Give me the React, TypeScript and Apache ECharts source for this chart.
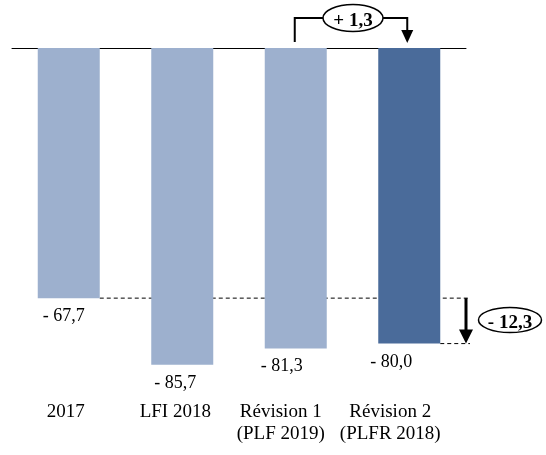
import React, { useEffect, useRef } from "react";
import * as echarts from "echarts";

const categories = ["2017", "LFI 2018", "Révision 1\n(PLF 2019)", "Révision 2\n(PLFR 2018)"];
const values = [-67.7, -85.7, -81.3, -80.0];
const valueLabels = ["- 67,7", "- 85,7", "- 81,3", "- 80,0"];
const deltaTopLabel = "+ 1,3";
const deltaRightLabel = "- 12,3";

const FONT = "'Book Antiqua', 'Palatino Linotype', 'Liberation Serif', serif";
const LIGHT = "#9db0ce";
const DARK = "#4a6b9a";

// layout: horizontal shift of labels relative to bar centres (as in the original)
const VALUE_LABEL_SHIFT = [-5, -7, -14, -18];
const CAT_LABEL_SHIFT = [-3, -7, -15, -19];

export default function App() {
  const ref = useRef<HTMLDivElement>(null);
  useEffect(() => {
    if (!ref.current) return;
    const chart = echarts.init(ref.current, undefined, { renderer: "svg" });
    const barW = 62;
    chart.setOption({
      animation: false,
      grid: { left: 12, right: 80, top: 48, bottom: 56 },
      xAxis: [
        {
          type: "category",
          data: categories,
          position: "top",
          axisLine: { show: true, onZero: false, lineStyle: { color: "#000", width: 1 } },
          axisTick: { show: false },
          axisLabel: { show: false },
        },
      ],
      yAxis: {
        type: "value",
        min: -95,
        max: 0,
        show: false,
        splitLine: { show: false },
      },
      series: [
        {
          type: "bar",
          xAxisIndex: 0,
          barWidth: barW,
          z: 3,
          data: values.map((v, i) => ({
            value: v,
            itemStyle: { color: i === values.length - 1 ? DARK : LIGHT },
            label: { offset: [VALUE_LABEL_SHIFT[i], 0] },
          })),
          label: {
            show: true,
            position: "bottom",
            distance: 8,
            fontSize: 18,
            color: "#000",
            fontFamily: FONT,
            formatter: (p: any) => valueLabels[p.dataIndex],
          },
        },
      ],
    });

    const cx = (i: number) => chart.convertToPixel({ xAxisIndex: 0 }, i) as number;
    const py = (v: number) => chart.convertToPixel({ yAxisIndex: 0 }, v) as number;
    const half = barW / 2;
    const y0 = py(0);
    const yA = py(values[0]);
    const yB = py(values[3]);
    const xArrow = 466;
    const xEnd = 470;
    const x3 = cx(2);
    const x4 = cx(3);
    const topY = 18;
    const ellStroke = { fill: "#fff", stroke: "#000", lineWidth: 1.5 };
    const catTexts = categories.map((c, i) => ({
      type: "text",
      z: 10,
      x: cx(i) + CAT_LABEL_SHIFT[i],
      y: 399,
      style: { text: c, font: `19px ${FONT}`, lineHeight: 22, fill: "#000", align: "center", verticalAlign: "top" },
    }));
    chart.setOption({
      graphic: [
        // dashed reference lines (behind bars)
        { type: "line", z: 0, shape: { x1: cx(0) + half, y1: yA, x2: xEnd, y2: yA }, style: { stroke: "#000", lineWidth: 1, lineDash: [4, 3] } },
        { type: "line", z: 0, shape: { x1: x4 + half, y1: yB, x2: xEnd, y2: yB }, style: { stroke: "#000", lineWidth: 1, lineDash: [4, 3] } },
        // down arrow right
        { type: "line", z: 10, shape: { x1: xArrow, y1: yA, x2: xArrow, y2: yB - 12 }, style: { stroke: "#000", lineWidth: 3 } },
        { type: "polygon", z: 10, shape: { points: [[xArrow - 7, yB - 14], [xArrow + 7, yB - 14], [xArrow, yB]] }, style: { fill: "#000" } },
        { type: "ellipse", z: 10, shape: { cx: 510, cy: 320, rx: 31.5, ry: 12.5 }, style: ellStroke },
        { type: "text", z: 11, x: 510, y: 321, style: { text: deltaRightLabel, font: `bold 19px ${FONT}`, fill: "#000", align: "center", verticalAlign: "middle" } },
        // top bracket
        { type: "polyline", z: 10, shape: { points: [[x3 - 1, y0 - 6], [x3 - 1, topY], [x4 - 2, topY], [x4 - 2, y0 - 16]] }, style: { stroke: "#000", lineWidth: 2, fill: "none" } },
        { type: "polygon", z: 10, shape: { points: [[x4 - 8, y0 - 18], [x4 + 4, y0 - 18], [x4 - 2, y0 - 5]] }, style: { fill: "#000" } },
        { type: "ellipse", z: 10, shape: { cx: 353, cy: topY, rx: 30, ry: 13.5 }, style: ellStroke },
        { type: "text", z: 11, x: 353, y: topY + 1, style: { text: deltaTopLabel, font: `bold 19px ${FONT}`, fill: "#000", align: "center", verticalAlign: "middle" } },
        ...catTexts,
      ],
    });
    return () => chart.dispose();
  }, []);
  return <div ref={ref} style={{ position: "fixed", left: 0, top: 0, width: 546, height: 455 }} />;
}
